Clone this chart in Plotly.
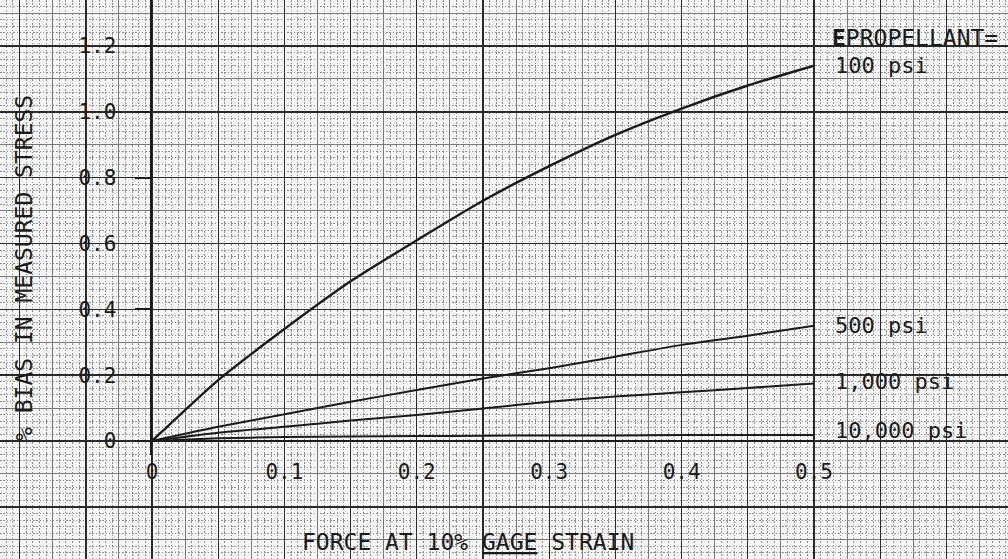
import plotly.graph_objects as go

# ---------------- data ----------------
force = [0, 0.05, 0.10, 0.15, 0.20, 0.25, 0.30, 0.35, 0.40, 0.45, 0.50]
bias_100 = [0, 0.185, 0.340, 0.485, 0.610, 0.730, 0.835, 0.930, 1.010, 1.080, 1.140]
bias_500 = [0, 0.043, 0.081, 0.119, 0.155, 0.190, 0.221, 0.256, 0.292, 0.320, 0.350]
bias_1000 = [0, 0.025, 0.043, 0.062, 0.079, 0.099, 0.119, 0.135, 0.148, 0.161, 0.175]
bias_10000 = [0, 0.008, 0.012, 0.014, 0.015, 0.016, 0.017, 0.017, 0.018, 0.018, 0.018]
series_labels = ["100 psi", "500 psi", "1,000 psi", "10,000 psi"]
x_tickvals = [0, 0.1, 0.2, 0.3, 0.4, 0.5]
x_ticktext = ["0", "0.1", "0.2", "0.3", "0.4", "0.5"]
y_tickvals = [0, 0.2, 0.4, 0.6, 0.8, 1.0, 1.2]
y_ticktext = ["0", "0.2", "0.4", "0.6", "0.8", "1.0", "1.2"]
x_title = "FORCE AT 10% <u>GAGE</u> STRAIN"
y_title = "% BIAS IN MEASURED STRESS"
legend_head = "<b>E</b>PROPELLANT="

# ---------------- geometry ----------------
W, H = 1008, 559
X0PX, X05PX = 152, 814          # pixel of x=0 and x=0.5
Y0PX, Y12PX = 441, 46           # pixel of y=0 and y=1.2
AXIS_BOTTOM_PX = 455
sx = (X05PX - X0PX) / 0.5
sy = (Y0PX - Y12PX) / 1.2
full_x = [-X0PX / sx, (W - X0PX) / sx]
full_y = [-(H - Y0PX) / sy, Y0PX / sy]
data_y = [-(AXIS_BOTTOM_PX - Y0PX) / sy, Y0PX / sy]

INK = "#1b1b1b"
MONO = "DejaVu Sans Mono"

fig = go.Figure()

# invisible traces so the graph-paper axes render
fig.add_trace(go.Scatter(x=[None], y=[None], xaxis="x", yaxis="y",
                         showlegend=False, hoverinfo="skip"))
fig.add_trace(go.Scatter(x=[None], y=[None], xaxis="x3", yaxis="y3",
                         showlegend=False, hoverinfo="skip"))

series = [bias_100, bias_500, bias_1000, bias_10000]
widths = [2.4, 2.0, 2.0, 2.0]
for vals, name, w in zip(series, series_labels, widths):
    fig.add_trace(go.Scatter(
        x=force, y=vals, mode="lines", name=name,
        line=dict(color=INK, width=w, shape="spline", smoothing=0.6),
        xaxis="x2", yaxis="y2", showlegend=False))

grid_common = dict(showticklabels=False, ticks="", zeroline=False, showline=False,
                   fixedrange=True, automargin=False)

fig.update_layout(
    width=W, height=H, autosize=False,
    margin=dict(l=0, r=0, t=0, b=0, pad=0, autoexpand=False),
    paper_bgcolor="#f6f6f6",
    plot_bgcolor="rgba(0,0,0,0)",
    showlegend=False,
    # graph-paper background: medium lines + dotted minor lines
    xaxis=dict(domain=[0, 1], range=full_x, anchor="y", tick0=0, dtick=0.025,
               showgrid=True, gridcolor="#7a7a7a", gridwidth=1,
               minor=dict(tick0=0, dtick=0.005, showgrid=True, gridcolor="#8e8e8e",
                          gridwidth=1, griddash="1.5px,1.8px"),
               **grid_common),
    yaxis=dict(domain=[0, 1], range=full_y, anchor="x", tick0=0, dtick=0.1,
               showgrid=True, gridcolor="#7a7a7a", gridwidth=1,
               minor=dict(tick0=0, dtick=0.02, showgrid=True, gridcolor="#8e8e8e",
                          gridwidth=1, griddash="1.5px,1.8px"),
               **grid_common),
    # heavy graph-paper lines
    xaxis3=dict(overlaying="x", anchor="y3", range=full_x, tick0=0, dtick=0.05,
                showgrid=True, gridcolor="#2a2a2a", gridwidth=1.4, **grid_common),
    yaxis3=dict(overlaying="y", anchor="x3", range=full_y, tick0=0, dtick=0.2,
                showgrid=True, gridcolor="#2a2a2a", gridwidth=1.4, **grid_common),
    # data axes
    xaxis2=dict(domain=[X0PX / W, X05PX / W], range=[0, 0.5], anchor="y2",
                showgrid=False, zeroline=False, showline=False, ticks="",
                tickvals=x_tickvals, ticktext=x_ticktext,
                tickfont=dict(family=MONO, size=21, color=INK),
                ticklabelstandoff=2, fixedrange=True, automargin=False),
    yaxis2=dict(domain=[(H - AXIS_BOTTOM_PX) / H, 1], range=data_y, anchor="x2",
                showgrid=False, zeroline=True, zerolinecolor=INK, zerolinewidth=2.2,
                showline=True, linecolor=INK, linewidth=2.4,
                ticks="outside", ticklen=15, tickwidth=1.8, tickcolor=INK,
                tickvals=y_tickvals, ticktext=y_ticktext,
                tickfont=dict(family=MONO, size=21, color=INK),
                ticklabelstandoff=14, fixedrange=True, automargin=False),
)

ann_font = dict(family=MONO, size=22, color=INK)
yshifts = [0, 0, 2, 5]
for vals, name, ys in zip(series, series_labels, yshifts):
    fig.add_annotation(x=force[-1], y=vals[-1], xref="x2", yref="y2",
                       text=name, showarrow=False, xanchor="left", yanchor="middle",
                       xshift=19, yshift=ys, font=ann_font)

fig.add_annotation(x=force[-1], y=1.224, xref="x2", yref="y2", text=legend_head,
                   showarrow=False, xanchor="left", yanchor="middle", xshift=16,
                   font=dict(family=MONO, size=23, color=INK))

fig.add_annotation(x=468 / W, y=(H - 542) / H, xref="paper", yref="paper",
                   text=x_title, showarrow=False, xanchor="center", yanchor="middle",
                   font=dict(family=MONO, size=23, color=INK))
fig.add_annotation(x=24 / W, y=(H - 268) / H, xref="paper", yref="paper",
                   text=y_title, showarrow=False, textangle=-90,
                   xanchor="center", yanchor="middle",
                   font=dict(family=MONO, size=23, color=INK))

post = (
    "document.documentElement.style.overflow='hidden';"
    "document.body.style.margin='0';document.body.style.padding='0';"
    "document.body.style.overflow='hidden';"
)

fig.write_html(
    "out.html",
    config={"responsive": False, "displayModeBar": False, "staticPlot": True},
    post_script=post,
)
